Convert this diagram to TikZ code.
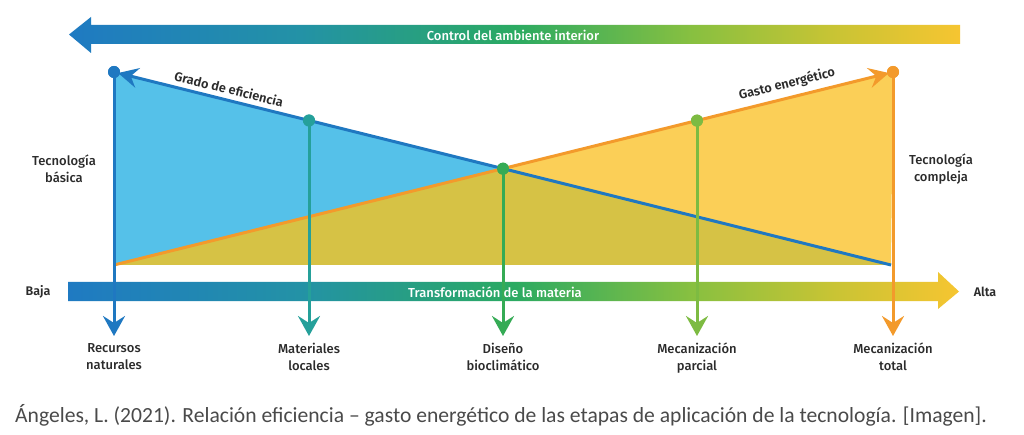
\documentclass[tikz,border=0pt]{standalone}
\usepackage{fontspec}
\setmainfont{Fira Sans}
\newfontfamily\labfont{Fira Sans Medium}
\newfontfamily\semifont{Fira Sans SemiBold}
\newfontfamily\capfont{Carlito}
\usetikzlibrary{arrows.meta}
\definecolor{cblue}{HTML}{1F78C1}
\definecolor{cteal}{HTML}{25A09A}
\definecolor{cgreen}{HTML}{35AB55}
\definecolor{clgreen}{HTML}{7DBB42}
\definecolor{corange}{HTML}{F39A2B}
\definecolor{cskyfill}{HTML}{55C1E9}
\definecolor{colivefill}{HTML}{D6C245}
\definecolor{cyelfill}{HTML}{FBCF57}
\definecolor{sA}{HTML}{1F7AC2}
\definecolor{sB}{HTML}{2392A6}
\definecolor{sC}{HTML}{2BAA62}
\definecolor{sD}{HTML}{88C040}
\definecolor{sE}{HTML}{C9C434}
\definecolor{sF}{HTML}{F6C531}
\definecolor{ctext}{HTML}{2B2B2B}
\definecolor{ccap}{HTML}{4A4A4A}
\pgfdeclarehorizontalshading{barshade}{100bp}{color(0bp)=(sA); color(25bp)=(sA); color(38bp)=(sB); color(50bp)=(sC); color(60bp)=(sD); color(68bp)=(sE); color(75bp)=(sF); color(100bp)=(sF)}
\tikzset{
  dotnode/.style={circle, inner sep=0pt, minimum size=12pt},
  vline/.style={line width=3pt, -{Stealth[length=20pt,width=22pt,inset=7pt]}},
  slope/.style={line width=3pt, -{Stealth[length=20pt,width=20pt,inset=7pt]}, shorten >=-2pt},
  lab/.style={font=\labfont\fontsize{13}{17}\selectfont, text=ctext, align=center, inner sep=0pt},
  bartext/.style={font=\labfont\fontsize{13}{14}\selectfont, text=white, inner sep=0pt},
  linelab/.style={font=\semifont\fontsize{12.8}{14}\selectfont, text=ctext, inner sep=0pt},
}
\begin{document}
\begin{tikzpicture}[x=1pt,y=-1pt]
\useasboundingbox[fill=white] (0,0) rectangle (1024,435);
% top arrow
\shade[shading=barshade] (69,34.5) -- (91,17) -- (91,25) -- (960,25) -- (960,44) -- (91,44) -- (91,53) -- cycle;
\node[bartext] (ctrl) at (513,35) {Control del ambiente interior};
% fills
\fill[colivefill] (114,265) -- (503,168.7) -- (891,265) -- cycle;
\fill[cskyfill] (114,72) -- (503,168.7) -- (114,265) -- cycle;
\fill[cyelfill] (893,72) -- (503,168.7) -- (891,265) -- cycle;
% dots
\node[dotnode, fill=cblue] (d1) at (114,72) {};
\node[dotnode, fill=cteal] (d2) at (309,120.5) {};
\node[dotnode, fill=cgreen] (d3) at (503,168.7) {};
\node[dotnode, fill=clgreen] (d4) at (697,120.6) {};
\node[dotnode, fill=corange] (d5) at (893,72) {};
\coordinate (bend) at (891,265);
\coordinate (ostart) at (114,265);
% sloped lines
\draw[slope, cblue] (bend) -- (d1);
\draw[slope, corange] (ostart) -- (d5);
\node[linelab, rotate=-14] (ge) at (229,89) {Grado de eficiencia};
\node[linelab, rotate=14] (gs) at (787,84) {Gasto energético};
% bottom arrow
\shade[shading=barshade] (68,282) -- (938,282) -- (938,272) -- (959,291.5) -- (938,309) -- (938,301) -- (68,301) -- cycle;
% verticals
\coordinate (a1) at (114,336);
\coordinate (a2) at (309,336);
\coordinate (a3) at (503,336);
\coordinate (a4) at (697,336);
\coordinate (a5) at (893,336);
\draw[vline, cblue] (d1.center) -- (a1);
\draw[vline, cteal] (d2.center) -- (a2);
\draw[vline, cgreen] (d3.center) -- (a3);
\draw[vline, clgreen] (d4.center) -- (a4);
\draw[vline, corange] (d5.center) -- (a5);
\node[dotnode, fill=cblue] at (d1) {};
\node[dotnode, fill=cteal] at (d2) {};
\node[dotnode, fill=cgreen] at (d3) {};
\node[dotnode, fill=clgreen] at (d4) {};
\node[dotnode, fill=corange] at (d5) {};
\node[bartext] (trans) at (495,292) {Transformación de la materia};
% labels
\node[lab, anchor=north] (l1) at (114,343) {Recursos\\naturales};
\node[lab, anchor=north] (l2) at (309,343) {Materiales\\locales};
\node[lab, anchor=north] (l3) at (503,343) {Diseño\\bioclimático};
\node[lab, anchor=north] (l4) at (697,343) {Mecanización\\parcial};
\node[lab, anchor=north] (l5) at (893,343) {Mecanización\\total};
\node[lab] (tb) at (64,169) {Tecnología\\básica};
\node[lab] (tc) at (941,169) {Tecnología\\compleja};
\node[lab, font=\semifont\fontsize{12.5}{17}\selectfont] (baja) at (38,291.5) {Baja};
\node[lab, font=\semifont\fontsize{12.5}{17}\selectfont] (alta) at (985,291.5) {Alta};
% caption
\node[anchor=base west, inner sep=0pt, text=ccap, font=\capfont\fontsize{21.6}{24}\selectfont] (cap) at (15,422) {Ángeles, L. (2021). Relación eficiencia – gasto energético de las etapas de aplicación de la tecnología. [Imagen].};
\end{tikzpicture}
\end{document}
